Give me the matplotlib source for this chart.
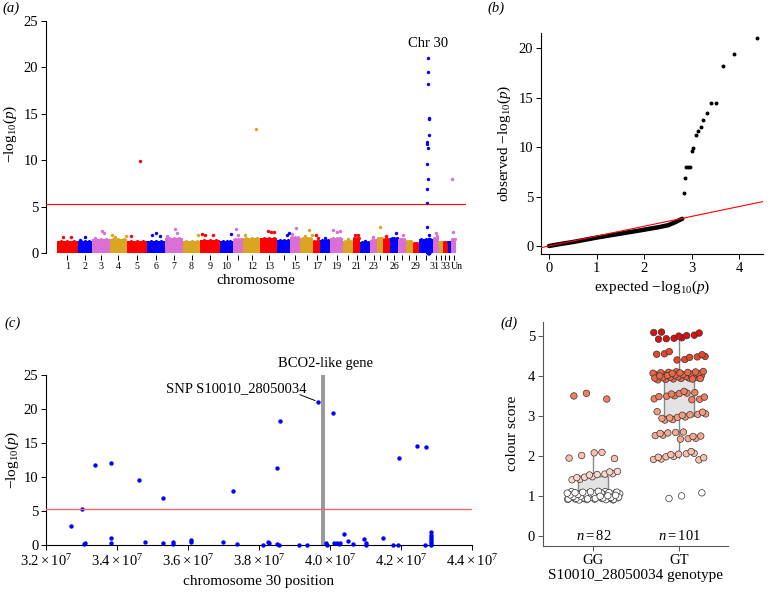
import numpy as np
import matplotlib
matplotlib.use('Agg')
import matplotlib.pyplot as plt
from matplotlib.transforms import ScaledTranslation

plt.rcParams['font.family'] = ['Liberation Serif', 'DejaVu Serif']
plt.rcParams['mathtext.fontset'] = 'custom'
plt.rcParams['mathtext.rm'] = 'Liberation Serif'
plt.rcParams['mathtext.it'] = 'Liberation Serif:italic'
plt.rcParams['mathtext.bf'] = 'Liberation Serif:bold'

# ---------------- data ----------------
# panel (a) Manhattan plot
chrom_names = ['1', '2', '3', '4', '5', '6', '7', '8', '9', '10', '11', '12', '13', '14',
               '15', '16', '17', '18', '19', '20', '21', '22', '23', '24', '25', '26', '27',
               '28', '29', '30', '31', '32', '33', '34', 'Un']
chrom_len_mb = [86, 57, 74, 70, 82, 74, 74, 70, 82, 53, 41, 70, 70, 53, 41, 53, 29, 41, 53,
                41, 29, 41, 29, 25, 29, 33, 29, 29, 25, 57, 25, 16, 21, 14, 20]
chrom_body = [1.3, 1.3, 1.5, 1.5, 1.3, 1.3, 1.6, 1.3, 1.4, 1.3, 1.5, 1.6, 1.6, 1.4, 1.7, 1.6,
              1.3, 1.4, 1.6, 1.3, 1.6, 1.2, 1.4, 1.6, 1.5, 1.6, 1.5, 1.3, 1.1, 1.5, 1.6, 1.2,
              1.2, 1.2, 1.5]
chrom_labelled = ['1', '2', '3', '4', '5', '6', '7', '8', '9', '10', '12', '13', '15', '17',
                  '19', '21', '23', '26', '29', '31', '33', 'Un']
peak_chrom = [1, 1, 2, 2, 3, 3, 3, 4, 4, 4, 5, 5, 6, 6, 6, 7, 7, 7, 8, 9, 9, 9, 10, 11, 11,
              12, 12, 13, 13, 13, 14, 14, 15, 15, 16, 16, 16, 17, 17, 18, 19, 19, 19, 20, 21,
              21, 22, 23, 24, 25, 26, 27, 31, 31, 35, 35]
peak_pos_mb = [26, 56, 8, 29, 12, 40, 49, 7, 20, 66, 15, 52, 19, 37, 53, 7, 41, 48, 62, 7, 20,
               53, 45, 12, 20, 8, 52, 33, 45, 57, 41, 49, 8, 25, 20, 37, 49, 12, 20, 20, 12, 29,
               40, 20, 8, 20, 20, 12, 12, 12, 25, 20, 12, 19, 8, 4]
peak_logp = [1.69, 1.69, 1.45, 1.76, 1.6, 2.4, 2.2, 1.98, 1.76, 1.83, 1.83, 9.91, 1.94, 2.1,
             1.8, 1.8, 2.55, 2.1, 1.9, 2.05, 1.9, 1.9, 2.05, 2.55, 1.9, 1.9, 13.4, 2.35, 2.3,
             2.25, 1.9, 2.2, 2.0, 2.7, 1.85, 2.45, 1.9, 1.9, 1.65, 1.6, 2.5, 2.3, 2.35, 1.5,
             1.9, 1.9, 1.3, 1.75, 2.8, 1.85, 2.1, 1.9, 2.2, 1.8, 2.3, 7.94]
threshold = 5.3

# panel (b) QQ plot
qq_line_exp = [0.0, 0.3, 0.5, 1.0, 1.5, 2.0, 2.3, 2.5, 2.65, 2.75, 2.8]
qq_line_obs = [0.0, 0.25, 0.4, 0.85, 1.25, 1.65, 1.9, 2.1, 2.4, 2.65, 2.75]
qq_exp = [2.83, 2.86, 2.88, 2.92, 2.96, 3.0, 3.02, 3.08, 3.14, 3.19, 3.24, 3.32, 3.40, 3.51,
          3.66, 3.89, 4.37]
qq_obs = [5.36, 6.91, 7.96, 7.96, 7.96, 9.6, 9.95, 11.27, 11.67, 12.0, 12.72, 13.43, 14.47,
          14.5, 18.2, 19.47, 21.05]

# panel (c) chromosome 30 region
c30_pos_mb = [32.70, 33.01, 33.08, 33.09, 33.39, 33.82, 33.82, 33.82, 34.63, 34.78, 35.29,
              35.31, 35.57, 35.58, 36.08, 36.09, 37.00, 37.28, 37.38, 38.11, 38.27, 38.28,
              38.51, 38.51, 38.57, 38.59, 39.14, 39.36, 39.66, 39.89, 39.91, 40.10, 40.11,
              40.21, 40.25, 40.29, 40.39, 40.50, 40.65, 40.97, 41.02, 41.03, 41.50, 41.77,
              41.92, 41.96, 42.45, 42.68, 42.70, 42.86, 42.86, 42.86, 42.86, 42.86, 42.86, 42.86]
c30_logp = [2.75, 5.34, 0.15, 0.25, 11.7, 12.0, 1.0, 0.35, 9.6, 0.5, 6.9, 0.3, 0.4, 0.2, 0.75,
            0.45, 0.5, 7.95, 0.1, 0.05, 0.4, 0.25, 11.3, 0.15, 0.05, 18.2, 0.05, 0.05, 21.0,
            0.25, 0.05, 19.46, 0.25, 0.35, 0.15, 0.25, 1.55, 0.55, 0.15, 0.85, 0.35, 0.05, 1.0,
            0.05, 0.05, 12.75, 14.55, 0.05, 14.45, 1.95, 1.5, 1.2, 0.9, 0.6, 0.3, 0.05]
gene_pos_mb = 39.80
snp_label = 'SNP S10010_28050034'
c_xticks = [3.2e7, 3.4e7, 3.6e7, 3.8e7, 4.0e7, 4.2e7, 4.4e7]
c_xticklabels = [r'$3.2\times10^{7}$', r'$3.4\times10^{7}$', r'$3.6\times10^{7}$',
                 r'$3.8\times10^{7}$', r'$4.0\times10^{7}$', r'$4.2\times10^{7}$',
                 r'$4.4\times10^{7}$']

# panel (d) colour score by genotype
genotypes = ['GG', 'GT']
gg_scores = [1.0] * 63 + [1.5] * 11 + [2.0] * 5 + [3.5] * 3
gt_scores = [1.0] * 3 + [2.0] * 12 + [2.5] * 11 + [3.0] * 12 + [3.5] * 12 + [4.0] * 32 + [4.5] * 9 + [5.0] * 10
box_stats = [dict(whislo=0.9, q1=1.1, med=1.1, q3=1.5, whishi=2.0),
             dict(whislo=1.93, q1=3.0, med=4.0, q3=4.0, whishi=4.93)]
score_levels = [1.0, 1.5, 2.0, 2.5, 3.0, 3.5, 4.0, 4.5, 5.0]
score_colors = ['#ffffff', '#fcd6ca', '#f9c0ae', '#f6a890', '#f49d82', '#f07e60', '#ed6647',
                '#e6452a', '#dc0f0f']

# ---------------- figure ----------------
W, H = 779, 592
fig = plt.figure(figsize=(W / 100, H / 100), dpi=100)


def ax_px(l, r, t, b):
    return fig.add_axes([l / W, 1 - b / H, (r - l) / W, (b - t) / H])


ylab = r'$-\mathrm{log}_{10}(p)$'

# ---- (a) ----
axa = ax_px(46, 466, 11.7, 255.3)
palette = ['red', 'blue', 'orchid', 'goldenrod']
lens = np.array(chrom_len_mb, dtype=float)
starts = np.concatenate([[0.0], np.cumsum(lens)[:-1]])
mids = starts + lens / 2
for i, (s, L, hgt) in enumerate(zip(starts, lens, chrom_body)):
    col = palette[i % 4]
    axa.fill_between([s, s + L], 0, hgt, color=col, lw=0, clip_on=False)
    axa.scatter([s + L * 0.2, s + L * 0.5, s + L * 0.8], [hgt] * 3, s=5, color=col, lw=0,
                clip_on=False)
for c, p, v in zip(peak_chrom, peak_pos_mb, peak_logp):
    axa.scatter(starts[c - 1] + p, v, s=6, color=palette[(c - 1) % 4], lw=0, clip_on=False)
i30 = chrom_names.index('30')
axa.scatter(starts[i30] + np.array(c30_pos_mb), c30_logp, s=6, color='blue', lw=0, zorder=3,
            clip_on=False)
axa.axhline(threshold, color='red', lw=0.8, zorder=4)
axa.text(starts[i30] + 40, 22.6, 'Chr 30', ha='center', va='center', fontsize=10.5)
axa.set_xlim(-45, 1677)
axa.set_ylim(-0.25, 26)
for sp in ['top', 'right', 'bottom']:
    axa.spines[sp].set_visible(False)
axa.spines['left'].set_bounds(0, 25)
axa.set_yticks([0, 5, 10, 15, 20, 25])
axa.set_xticks(mids)
axa.set_xticklabels([n if n in chrom_labelled else '' for n in chrom_names], fontsize=7.2)
axa.tick_params(axis='x', length=3.5, width=0.7, pad=1.5)
axa.tick_params(axis='y', length=3.5, width=0.7, labelsize=10.5, pad=2)
# nudge the crowded labels at the right end apart
shifts = {'31': -1.5, 'Un': 3.5}
for lab, name in zip(axa.get_xticklabels(), chrom_names):
    if name in shifts:
        lab.set_transform(lab.get_transform() +
                          ScaledTranslation(shifts[name] / 100, 0, fig.dpi_scale_trans))
axa.set_ylabel(ylab, fontsize=11, labelpad=3)
axa.set_xlabel('chromosome', fontsize=11, labelpad=2)
fig.text(2 / W, 1 - 8 / H, '(a)', fontsize=10.5, style='italic', va='center', ha='left')

# ---- (b) ----
axb = ax_px(541, 763, 33, 254)
axb.plot(qq_line_exp, qq_line_obs, color='black', lw=3.2, solid_capstyle='round', zorder=2)
axb.scatter(qq_exp, qq_obs, s=8, color='black', lw=0, zorder=3)
axb.plot([-0.2, 4.6], [-0.2, 4.6], color='red', lw=0.8, zorder=4)
axb.set_xlim(-0.168, 4.496)
axb.set_ylim(-0.81, 21.56)
axb.spines['top'].set_visible(False)
axb.spines['right'].set_visible(False)
axb.set_xticks([0, 1, 2, 3, 4])
axb.set_yticks([0, 5, 10, 15, 20])
axb.tick_params(length=3.5, width=0.7, labelsize=10.5, pad=2)
axb.set_ylabel('observed ' + ylab, fontsize=11, labelpad=4)
axb.set_xlabel('expected ' + ylab, fontsize=11, labelpad=3)
fig.text(487 / W, 1 - 8 / H, '(b)', fontsize=10.5, style='italic', va='center', ha='left')

# ---- (c) ----
axc = ax_px(46, 471.7, 375, 545)
axc.bar(gene_pos_mb * 1e6, 25, width=1.1e5, bottom=0, color='#9a9a9a', zorder=1)
axc.scatter(np.array(c30_pos_mb) * 1e6, c30_logp, s=10, color='blue', lw=0, zorder=3,
            clip_on=False)
axc.axhline(threshold, color='#f06a6a', lw=1.0, zorder=4)
axc.plot([39.16e6, 39.58e6], [22.1, 21.25], color='black', lw=0.7)
axc.text(39.33e6, 23.0, snp_label, ha='right', va='center', fontsize=10.5)
axc.text(39.88e6, 26.7, 'BCO2-like gene', ha='center', va='center', fontsize=10.5)
axc.set_xlim(3.2e7, 4.4e7)
axc.set_ylim(0, 25)
axc.spines['top'].set_visible(False)
axc.spines['right'].set_visible(False)
axc.set_xticks(c_xticks)
axc.set_xticklabels(c_xticklabels)
axc.set_yticks([0, 5, 10, 15, 20, 25])
axc.tick_params(length=3.5, width=0.7, labelsize=10.5, pad=2)
axc.set_ylabel(ylab, fontsize=11, labelpad=2)
axc.set_xlabel('chromosome 30 position', fontsize=11, labelpad=5)
fig.text(4 / W, 1 - 323 / H, '(c)', fontsize=10.5, style='italic', va='center', ha='left')

# ---- (d) ----
axd = ax_px(542.7, 728, 321.7, 546)
for k, st in enumerate(box_stats):
    xc = k + 1
    hw = 0.175
    axd.plot([xc, xc], [st['q3'], st['whishi']], color='#888888', lw=1.0, zorder=1)
    axd.plot([xc, xc], [st['whislo'], st['q1']], color='#888888', lw=1.0, zorder=1)
    axd.add_patch(plt.Rectangle((xc - hw, st['q1']), 2 * hw, st['q3'] - st['q1'],
                                facecolor='#e3e3e3', edgecolor='#888888', lw=1.0, zorder=1))
    axd.plot([xc - hw, xc + hw], [st['med'], st['med']], color='#888888', lw=1.0, zorder=1)
for k, scores in enumerate([gg_scores, gt_scores]):
    sc = np.array(scores)
    idx = np.arange(len(sc))
    xj = ((idx * 0.6180339887 + 0.31) % 1.0 - 0.5) * 0.62
    yj = ((idx * 0.3819660113 * 1.7 + 0.17) % 1.0 - 0.5) * 0.22
    cols = [score_colors[score_levels.index(v)] for v in scores]
    axd.scatter(k + 1 + xj, sc + yj, s=22, c=cols, edgecolors='#333333', linewidths=0.5,
                zorder=3)
    axd.text(k + 1, 0.0, r'$n = %d$' % len(scores), ha='center', va='center', fontsize=10.5)
axd.set_xlim(0.41, 2.57)
axd.set_ylim(-0.26, 5.35)
axd.spines['top'].set_visible(False)
axd.spines['right'].set_visible(False)
for sp in ['left', 'bottom']:
    axd.spines[sp].set_color('#555555')
axd.set_xticks([1, 2])
axd.set_xticklabels(genotypes)
axd.set_yticks([0, 1, 2, 3, 4, 5])
axd.tick_params(length=3.5, width=0.7, labelsize=10.5, pad=2, color='#555555')
axd.set_ylabel('colour score', fontsize=11, labelpad=6)
axd.set_xlabel('S10010_28050034 genotype', fontsize=11, labelpad=2)
fig.text(500 / W, 1 - 323 / H, '(d)', fontsize=10.5, style='italic', va='center', ha='left')

fig.savefig('out.png', dpi=100)
